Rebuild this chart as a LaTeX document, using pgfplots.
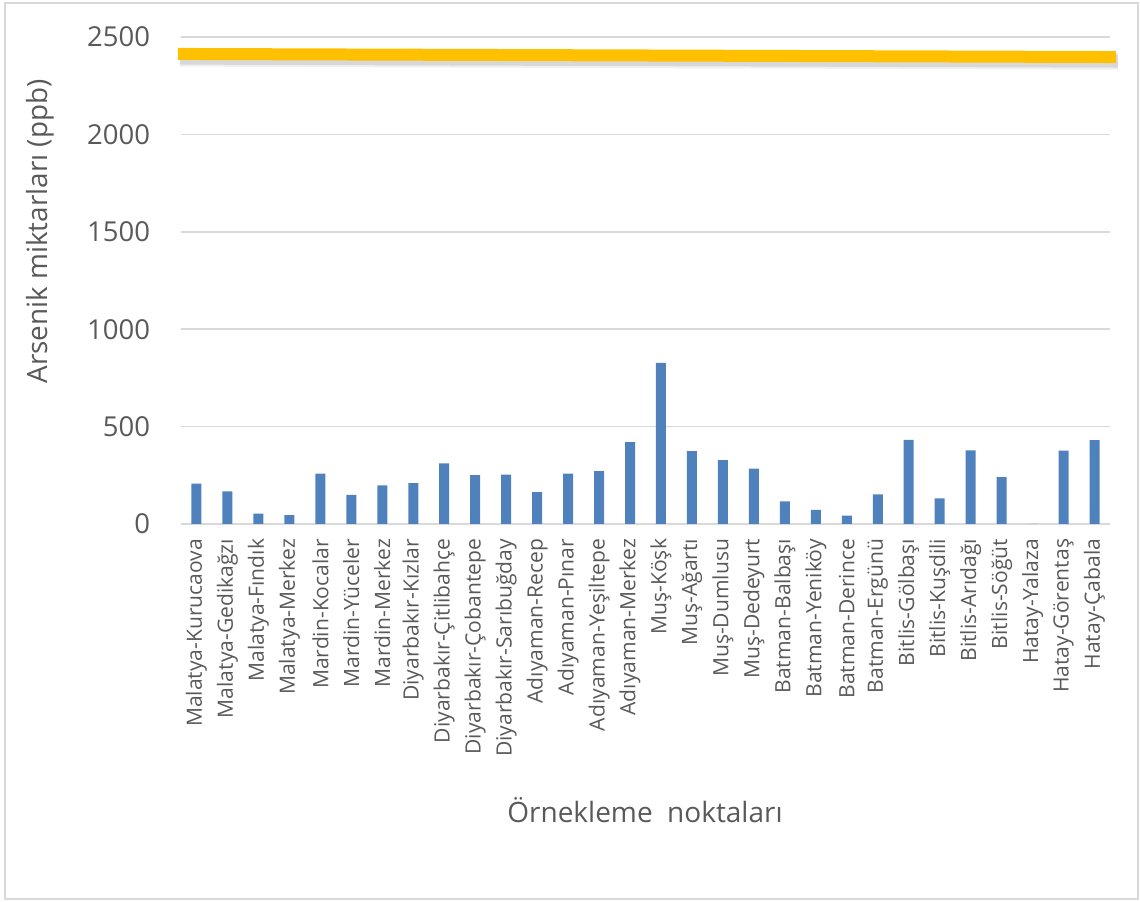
\documentclass[border=0pt]{standalone}
\usepackage{fontspec}
\setmainfont{Open Sans}
\usepackage{pgfplots}
\pgfplotsset{compat=1.18}
\definecolor{txt}{HTML}{595959}
\definecolor{gridc}{HTML}{D9D9D9}
\definecolor{barc}{HTML}{4F81BD}
\definecolor{yel}{HTML}{FFC000}
\begin{document}
\begin{tikzpicture}
\path[use as bounding box] (0,0) rectangle (855pt,676.5pt);
\draw[gridc, line width=1.5pt] (3.75pt,2.25pt) rectangle (853.5pt,674.25pt);
\begin{axis}[
  at={(135.75pt,283.5pt)}, anchor=south west,
  width=696.75pt, height=365.25pt, scale only axis,
  xmin=0.5, xmax=30.5, ymin=0, ymax=2500,
  ytick={0,500,1000,1500,2000,2500},
  xtick={1,...,30},
  xticklabels={Malatya-Kurucaova,Malatya-Gedikağzı,Malatya-Fındık,Malatya-Merkez,Mardin-Kocalar,Mardin-Yüceler,Mardin-Merkez,Diyarbakır-Kızlar,Diyarbakır-Çitlibahçe,Diyarbakır-Çobantepe,Diyarbakır-Sarıbuğday,Adıyaman-Recep,Adıyaman-Pınar,Adıyaman-Yeşiltepe,Adıyaman-Merkez,Muş-Köşk,Muş-Ağartı,Muş-Dumlusu,Muş-Dedeyurt,Batman-Balbaşı,Batman-Yeniköy,Batman-Derince,Batman-Ergünü,Bitlis-Gölbaşı,Bitlis-Kuşdili,Bitlis-Arıdağı,Bitlis-Söğüt,Hatay-Yalaza,Hatay-Görentaş,Hatay-Çabala},
  /pgf/number format/assume math mode=true,
  /pgf/number format/1000 sep={},
  axis line style={draw=none},
  tick style={draw=none},
  ymajorgrids, grid style={gridc, line width=1.1pt},
  yticklabel style={font=\fontsize{20.6}{20.6}\selectfont, text=txt, anchor=east, inner sep=0pt, xshift=-23pt},
  xticklabel style={font=\fontsize{15.8}{15.8}\selectfont, text=txt, yshift=-11pt, rotate=90, anchor=east, inner sep=0pt},
  clip=false,
]
\addplot[ybar, bar width=7.5pt, fill=barc, draw=none] coordinates {
(1,207) (2,167) (3,53) (4,46) (5,258) (6,150) (7,198) (8,210) (9,311) (10,251)
(11,253) (12,164) (13,258) (14,272) (15,420) (16,827) (17,374) (18,328) (19,284) (20,116)
(21,73) (22,43) (23,152) (24,432) (25,132) (26,378) (27,241) (28,0) (29,376) (30,431)};
\addplot[black, opacity=0.10, line width=10pt, line cap=butt, transform canvas={xshift=1.5pt,yshift=-3pt}] coordinates {(0.4,2413) (30.69,2397)};
\addplot[black, opacity=0.06, line width=12pt, line cap=butt, transform canvas={xshift=1.5pt,yshift=-3.5pt}] coordinates {(0.4,2413) (30.69,2397)};
\addplot[yel, line width=9pt, line cap=butt] coordinates {(0.4,2413) (30.69,2397)};
\end{axis}
\node[rotate=90, text=txt, font=\fontsize{20.9}{20.9}\selectfont] at (30pt,502.9pt) {Arsenik miktarları (ppb)};
\node[anchor=base, text=txt, font=\fontsize{21}{21}\selectfont] at (483.75pt,59.25pt) {Örnekleme\ \ noktaları};
\end{tikzpicture}
\end{document}
